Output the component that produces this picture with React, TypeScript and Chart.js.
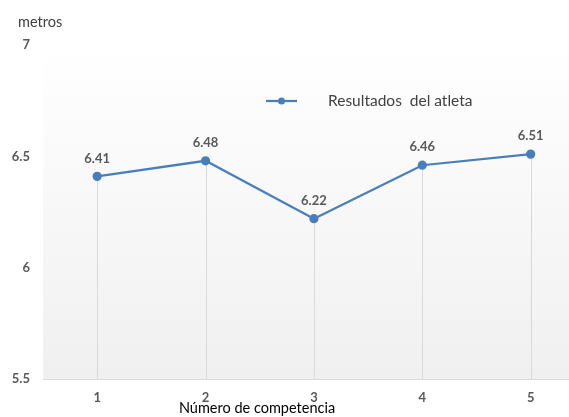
import React, { useEffect, useRef } from "react";
import { Chart, registerables } from "chart.js";

Chart.register(...registerables);

const competencias = [1, 2, 3, 4, 5];
const resultados = [6.41, 6.48, 6.22, 6.46, 6.51];
const yTicks = [5.5, 6, 6.5, 7];
const seriesName = "Resultados  del atleta";
const yTitle = "metros";
const xTitle = "Número de competencia";

const FONT = "Lato, 'Open Sans', sans-serif";
const LINE = "#4a7ebb";

const decorPlugin = {
  id: "decor",
  beforeDraw(chart: any) {
    const { ctx, chartArea } = chart;
    const g = ctx.createLinearGradient(0, chartArea.top, 0, chartArea.bottom);
    g.addColorStop(0, "#ffffff");
    g.addColorStop(1, "#f0f0f0");
    ctx.save();
    ctx.fillStyle = g;
    ctx.fillRect(chartArea.left, chartArea.top, chart.width - chartArea.left, chartArea.bottom - chartArea.top);
    ctx.restore();
  },
  beforeDatasetsDraw(chart: any) {
    const { ctx, chartArea } = chart;
    const meta = chart.getDatasetMeta(0);
    ctx.save();
    ctx.strokeStyle = "#d9d9d9";
    ctx.lineWidth = 1;
    meta.data.forEach((pt: any) => {
      const x = Math.round(pt.x) + 0.5;
      ctx.beginPath();
      ctx.moveTo(x, pt.y);
      ctx.lineTo(x, chartArea.bottom);
      ctx.stroke();
    });
    ctx.restore();
  },
  afterDatasetsDraw(chart: any) {
    const { ctx, chartArea } = chart;
    const meta = chart.getDatasetMeta(0);
    const data = chart.data.datasets[0].data;
    ctx.save();
    ctx.font = `bold 13px ${FONT}`;
    ctx.fillStyle = "#595959";
    ctx.textAlign = "center";
    ctx.textBaseline = "middle";
    meta.data.forEach((pt: any, i: number) => {
      ctx.fillText(String(data[i].y.toFixed(2)), pt.x, pt.y - 18);
    });
    // legend
    const ly = 101;
    ctx.strokeStyle = LINE;
    ctx.lineWidth = 2.25;
    ctx.beginPath();
    ctx.moveTo(266, ly);
    ctx.lineTo(297, ly);
    ctx.stroke();
    ctx.fillStyle = LINE;
    ctx.beginPath();
    ctx.arc(281.5, ly, 3.5, 0, Math.PI * 2);
    ctx.fill();
    ctx.font = `15.5px ${FONT}`;
    ctx.fillStyle = "#404040";
    ctx.textAlign = "left";
    ctx.fillText(chart.data.datasets[0].label, 328, ly);
    // y title
    ctx.font = `14.5px ${FONT}`;
    ctx.fillText(yTitle, 18, 22);
    // x title
    ctx.font = `14.5px ${FONT}`;
    ctx.fillStyle = "#000000";
    ctx.textAlign = "center";
    ctx.fillText(xTitle, 257, 408);
    ctx.restore();
  },
};

export default function App() {
  const ref = useRef<HTMLCanvasElement>(null);
  useEffect(() => {
    document.body.style.margin = "0";
    const chart = new Chart(ref.current!, {
      type: "line",
      data: {
        datasets: [
          {
            label: seriesName,
            data: competencias.map((c, i) => ({ x: c, y: resultados[i] })),
            borderColor: LINE,
            backgroundColor: LINE,
            borderWidth: 2.25,
            pointRadius: 3.5,
            pointBackgroundColor: LINE,
            pointBorderColor: LINE,
            tension: 0,
          },
        ],
      },
      options: {
        animation: false,
        responsive: false,
        layout: { padding: { top: 45, left: 0, right: 0, bottom: 0 } },
        plugins: { legend: { display: false }, tooltip: { enabled: false } },
        scales: {
          x: {
            type: "linear",
            min: 0.5,
            max: 5.296,
            afterBuildTicks: (s: any) => {
              s.ticks = competencias.map((v) => ({ value: v }));
            },
            afterFit: (s: any) => {
              s.height = 38;
            },
            grid: { display: false, drawTicks: false },
            border: { display: false },
            ticks: {
              padding: 11,
              color: "#595959",
              font: { family: FONT, size: 13, weight: "bold" },
              callback: (v: any) => String(v),
            },
          },
          y: {
            min: 5.5,
            max: 7,
            afterBuildTicks: (s: any) => {
              s.ticks = yTicks.map((v) => ({ value: v }));
            },
            afterFit: (s: any) => {
              s.width = 43;
            },
            grid: { display: false, drawTicks: false },
            border: { display: false },
            ticks: {
              padding: 13,
              color: "#595959",
              font: { family: FONT, size: 13, weight: "bold" },
              callback: (v: any) => String(v),
            },
          },
        },
      },
      plugins: [
        decorPlugin,
        {
          id: "axisLine",
          afterDraw(chart: any) {
            const { ctx, chartArea } = chart;
            ctx.save();
            ctx.strokeStyle = "#d9d9d9";
            ctx.lineWidth = 1;
            ctx.beginPath();
            ctx.moveTo(chartArea.left, Math.round(chartArea.bottom) + 0.5);
            ctx.lineTo(chart.width, Math.round(chartArea.bottom) + 0.5);
            ctx.stroke();
            ctx.restore();
          },
        },
      ],
    } as any);
    return () => chart.destroy();
  }, []);
  return <canvas ref={ref} width={569} height={417} style={{ display: "block" }} />;
}
